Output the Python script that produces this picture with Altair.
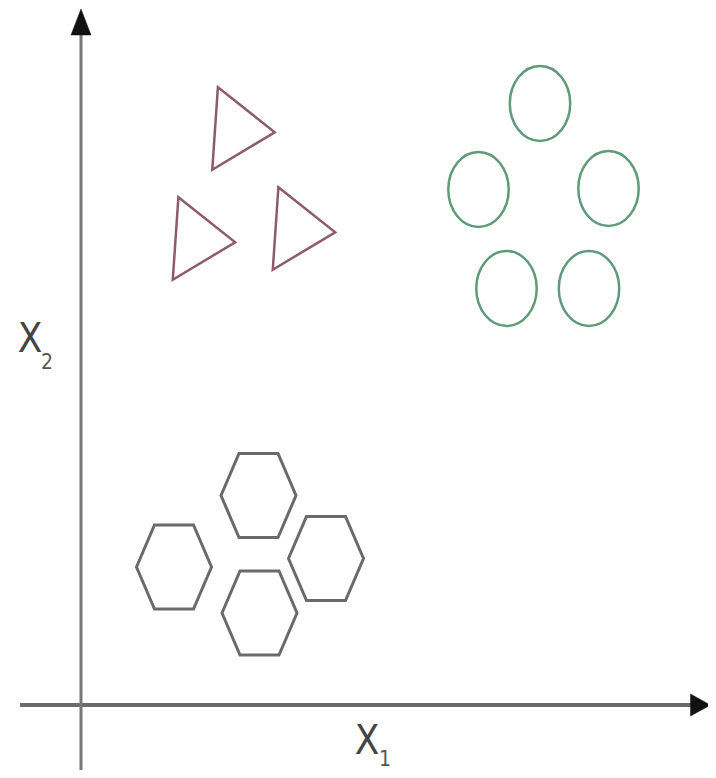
import altair as alt
import pandas as pd

# ---- data (units: origin at the axes crossing) ----
tri_x = [16.25, 12.3, 22.3]
tri_y = [57.65, 46.65, 47.65]
circ_x = [45.9, 39.75, 52.75, 42.55, 50.8]
circ_y = [60.15, 51.55, 51.65, 41.65, 41.65]
hex_x = [17.75, 9.3, 24.5, 17.85]
hex_y = [20.95, 13.8, 14.65, 9.2]

# axis extents
x_axis_from, x_axis_to = -6.1, 61.6
y_axis_from, y_axis_to = -6.5, 67.5
x_arrow = [61.95]
y_arrow = [68.3]

# labels
label_text = ["X", "X"]
label_x = [28.6, -5.1]
label_y = [-3.7, 36.5]
sub_text = ["1", "2"]
sub_x = [30.4, -3.4]
sub_y = [-5.5, 34.2]

XDOM = [-7.3, 62.7]
YDOM = [-6.5, 69.7]

tri_path = "M -0.82 -1.32 L 1 0.12 L -1 1.32 Z"
circ_path = "M 0 -1.24 A 1 1.24 0 1 1 0 1.24 A 1 1.24 0 1 1 0 -1.24 Z"
hex_path = "M -1 0 L -0.52 -1.12 L 0.52 -1.12 L 1 0 L 0.52 1.12 L -0.52 1.12 Z"


def xs():
    return alt.Scale(domain=XDOM, nice=False, zero=False)


def ys():
    return alt.Scale(domain=YDOM, nice=False, zero=False)


def enc():
    return dict(x=alt.X("x:Q", scale=xs(), axis=None), y=alt.Y("y:Q", scale=ys(), axis=None))


def shape_layer(xv, yv, path, color, size, sw):
    df = pd.DataFrame({"x": xv, "y": yv})
    return alt.Chart(df).mark_point(
        shape=path, filled=False, stroke=color, size=size, strokeWidth=sw, opacity=1
    ).encode(**enc())


triangles = shape_layer(tri_x, tri_y, tri_path, "#8d5b6b", 3900, 2.5)
circles = shape_layer(circ_x, circ_y, circ_path, "#5f9a7a", 3650, 2.5)
hexagons = shape_layer(hex_x, hex_y, hex_path, "#6a6a6a", 5625, 3)

hline_df = pd.DataFrame({"x": [x_axis_from], "x2": [x_axis_to], "y": [0.0]})
vline_df = pd.DataFrame({"x": [0.0], "y": [y_axis_from], "y2": [y_axis_to]})

hline = alt.Chart(hline_df).mark_rule(color="#6b6b6b", strokeWidth=4).encode(
    x=alt.X("x:Q", scale=xs(), axis=None), x2="x2:Q", y=alt.Y("y:Q", scale=ys(), axis=None)
)
vline = alt.Chart(vline_df).mark_rule(color="#777777", strokeWidth=3).encode(
    x=alt.X("x:Q", scale=xs(), axis=None), y=alt.Y("y:Q", scale=ys(), axis=None), y2="y2:Q"
)

right_arrow = alt.Chart(pd.DataFrame({"x": x_arrow, "y": [0.0]})).mark_point(
    shape="M -1 -1.1 L 1 0 L -1 1.1 Z", filled=True, fill="#111111", stroke="#111111", strokeWidth=0.5, size=400, opacity=1
).encode(**enc())

up_arrow = alt.Chart(pd.DataFrame({"x": [0.0], "y": y_arrow})).mark_point(
    shape="M -0.77 1 L 0 -1 L 0.77 1 Z", filled=True, fill="#111111", stroke="#111111", strokeWidth=0.5, size=676, opacity=1
).encode(**enc())

FONT = "Liberation Sans Narrow, DejaVu Sans Condensed, Liberation Sans, sans-serif"

labels = alt.Chart(pd.DataFrame({"t": label_text, "x": label_x, "y": label_y})).mark_text(
    font=FONT, fontSize=40, color="#444444", align="center", baseline="middle"
).encode(text="t:N", **enc())

subs = alt.Chart(pd.DataFrame({"t": sub_text, "x": sub_x, "y": sub_y})).mark_text(
    font=FONT, fontSize=21, color="#555555", align="center", baseline="middle"
).encode(text="t:N", **enc())

chart = alt.layer(hline, vline, right_arrow, up_arrow, triangles, circles, hexagons, labels, subs).properties(
    width=700, height=762, padding=0, autosize=alt.AutoSizeParams(type="none"), background="white"
).configure_view(stroke=None)

chart.save("out.html", embed_options={"renderer": "svg", "actions": False})
